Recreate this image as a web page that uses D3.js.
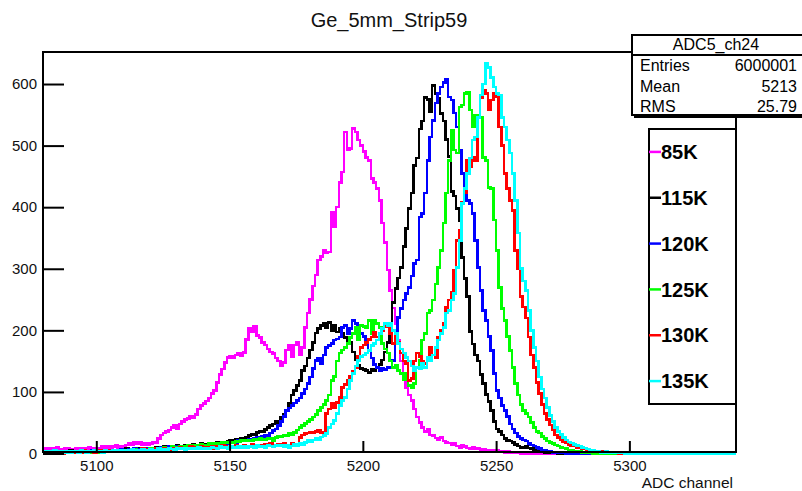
<!DOCTYPE html>
<html>
<head>
<meta charset="utf-8">
<script src="https://cdn.jsdelivr.net/npm/d3@7/dist/d3.min.js"></script>
<style>
  body { margin: 0; background: #fff; }
  svg { display: block; font-family: "Liberation Sans", Arial, sans-serif; }
</style>
</head>
<body>
<svg id="chart"></svg>
<script>
// bins are 1 ADC channel wide, first bin starts at 5080
const firstChannel = 5080;
const lastChannel = 5340;

const seriesNames = ["85K", "115K", "120K", "125K", "130K", "135K"];
const seriesColors = ["#ff00ff", "#000000", "#0000ff", "#00ff00", "#ff0000", "#00ffff"];

const counts85K = [
  8,6,9,7,8,10,7,6,9,8, 7,5,8,9,6,8,7,10,8,9, 7,9,11,10,12,9,11,13,10,12,
  11,14,17,15,19,16,18,15,17,14, 16,18,17,24,30,33,36,38,42,45, 41,48,52,55,57,60,58,63,72,78,
  81,85,90,97,102,115,128,137,148,156, 158,155,160,163,159,164,185,203,197,206,
  192,188,180,176,170,165,162,155,150,142, 148,168,175,158,176,180,160,172,205,228,
  250,272,290,314,320,330,326,327,392,368, 400,440,457,522,493,495,528,522,509,500,
  490,481,476,447,440,430,411,374,343,298, 265,236,210,184,150,125,107,95,86,72,
  59,50,42,36,40,30,29,25,22,26, 20,18,17,14,16,12,10,13,11,9,
  8,10,7,8,6,7,5,6,5,4, 5,3,4,2,3,2,1,2,1
];
const counts115K = [
  2,3,1,4,2,3,2,4,3,2, 5,3,4,2,3,5,4,3,4,6, 3,5,4,6,5,4,6,6,5,7,
  6,8,5,7,6,8,9,7,8,6, 9,8,10,9,9,11,10,12,11,10, 13,12,11,14,13,12,15,13,14,16,
  15,15,14,17,16,18,17,19,18,20, 22,21,23,22,25,24,27,29,31,30,
  34,36,35,39,42,45,48,52,50,58, 63,70,82,95,102,110,119,135,142,155,
  168,180,196,203,208,212,205,213,200,208, 197,203,195,188,178,180,165,152,143,138,
  136,135,132,136,134,140,145,152,165,180, 210,245,268,285,302,336,365,398,423,468,
  480,527,540,578,575,555,598,585,577,552, 540,510,482,425,418,398,378,318,284,255,
  198,178,160,150,128,114,96,84,70,52, 40,36,30,24,21,20,18,15,12,10,
  10,11,9,8,6,5,4,3,2,2, 1,2,1,0,1,0,1,0,0,1
];
const counts120K = [
  1,2,0,3,1,2,1,3,2,1, 3,2,4,2,3,2,4,3,5,3, 4,3,5,4,6,4,5,6,5,7,
  6,5,7,6,8,7,6,8,7,9, 8,7,9,8,10,9,8,11,9,10, 12,11,10,12,11,13,12,10,11,13,
  12,12,14,13,15,14,16,15,17,16, 18,19,18,21,20,22,21,23,22,24,
  26,25,28,30,29,33,37,40,45,52, 60,70,74,78,82,86,90,97,105,114,
  124,138,151,155,146,160,172,175,179,184, 186,189,205,208,195,203,216,211,205,195,
  190,184,167,155,145,140,135,138,136,140, 139,151,185,221,235,249,260,270,288,309,
  314,384,390,423,476,514,541,569,585,595, 602,607,579,574,553,530,493,455,430,411,
  406,390,346,302,265,232,216,190,167,130, 102,90,78,70,60,48,40,33,28,24,
  22,20,16,14,12,10,8,6,5,4, 3,2,2,1,2,1,0,1,0,1
];
const counts125K = [
  2,1,3,1,2,0,2,1,3,2, 1,3,2,2,4,1,3,2,3,4, 2,4,3,5,3,4,3,5,4,6,
  5,4,6,5,7,6,5,8,6,7, 8,6,9,7,8,10,8,9,11,10, 9,12,11,10,13,12,14,13,12,15,
  14,14,16,15,17,16,15,18,17,19, 18,17,20,19,21,20,22,21,20,23,
  22,24,23,22,25,24,21,26,28,27, 30,29,32,31,34,38,42,45,49,52,
  55,59,63,70,75,80,86,95,119,125, 150,163,168,172,179,188,195,205,184,208,
  206,205,216,195,216,211,205,179,170,163, 150,140,143,135,130,120,130,110,107,114,
  140,151,184,195,228,232,249,275,302,330, 374,423,476,525,493,488,563,566,585,587,
  558,530,550,548,546,481,476,432,430,379, 330,270,235,216,190,167,140,114,95,80,
  70,65,59,50,42,36,33,28,24,20, 18,16,14,12,10,9,8,6,5,4, 3,3,2,2,1,1,0
];
const counts130K = [
  3,1,2,4,1,3,2,0,2,3, 1,4,2,3,2,5,1,3,4,2, 3,5,2,4,3,6,4,3,5,4,
  6,4,5,7,5,3,6,8,5,7, 6,5,8,7,6,9,7,8,6,9, 8,10,7,9,8,11,9,10,8,11,
  9,10,9,12,8,11,10,13,9,12, 11,10,13,12,9,14,12,11,15,13,
  12,14,11,15,13,16,12,14,15,13, 16,14,12,16,15,14,26,30,32,33,
  35,34,36,37,33,35,65,72,81,75, 83,91,107,112,119,125,133,140,158,172,
  176,180,185,189,197,189,195,200,206,211, 195,179,195,180,163,150,146,119,122,150,
  163,158,150,146,155,172,160,156,189,200, 211,237,249,262,298,346,363,408,423,476,
  465,481,476,545,577,590,585,558,574,585, 579,530,500,455,430,411,395,330,300,255,
  238,220,189,160,140,115,97,80,65,55, 46,38,30,26,22,19,17,15,13,12,
  10,9,8,7,6,5,4,4,3,2, 3,2,1,2,1,1,0,1,2,1, 0,1
];
const counts135K = [
  4,2,3,1,5,2,3,4,2,3, 2,4,3,2,5,3,2,4,3,5, 3,4,2,5,4,3,6,4,5,3,
  5,6,4,7,5,6,4,7,6,5, 7,5,6,8,6,7,5,8,7,6, 8,7,9,6,8,7,9,8,10,7,
  8,9,8,10,9,8,11,9,10,8, 11,10,9,12,10,11,9,12,11,10,
  13,11,12,10,13,12,11,14,12,13, 11,14,10,12,15,13,16,14,18,21,
  19,22,25,23,27,29,32,42,48,54, 65,78,86,91,105,119,130,142,151,158,
  160,163,167,175,179,184,195,203,211,208, 211,200,195,179,170,163,156,150,142,135,
  140,138,146,140,156,151,160,172,184,195, 205,228,232,249,260,302,346,406,430,455,
  480,509,514,546,582,600,634,627,611,595, 585,582,546,530,509,488,455,411,358,300,
  280,265,232,200,172,150,124,105,90,75, 62,52,42,36,31,26,22,19,17,15,
  13,12,10,9,7,6,5,4,3,2, 2,3,1,2,1,1,2,1,0,1, 0,0,1
];
const allCounts = [counts85K, counts115K, counts120K, counts125K, counts130K, counts135K];

const xMajorTicks = [5100, 5150, 5200, 5250, 5300];
const xMinorTicks = d3.range(5080, 5341, 10);
const yMajorTicks = [0, 100, 200, 300, 400, 500, 600];
const yMinorTicks = d3.range(0, 651, 20);

const histTitle = "Ge_5mm_Strip59";
const statsTitle = "ADC5_ch24";
const statsLabels = ["Entries", "Mean", "RMS"];
const statsValues = ["6000001", "5213", "25.79"];
const xTitle = "ADC channel";

const width = 802;
const height = 491;
const frame = { left: 43, right: 736, top: 52, bottom: 452 };

const svg = d3.select("#chart").attr("width", width).attr("height", height);

const x = d3.scaleLinear().domain([firstChannel, lastChannel]).range([frame.left, frame.right]);
const y = d3.scaleLinear().domain([0, 652]).range([frame.bottom + 1.5, frame.top]);

// title
svg.append("text")
  .attr("x", 389)
  .attr("y", 27)
  .attr("text-anchor", "middle")
  .style("font-size", "20px")
  .style("fill", "#111")
  .text(histTitle);

// histograms, drawn as steps; empty bins up to the end of the axis are zero
const stepLine = d3.line()
  .x((d) => x(d[0]))
  .y((d) => y(d[1]))
  .curve(d3.curveStepAfter);

const plot = svg.append("g");
allCounts.forEach((counts, i) => {
  const pts = [];
  for (let ch = firstChannel; ch < lastChannel; ch++) {
    const v = counts[ch - firstChannel];
    pts.push([ch, v === undefined ? 0 : v]);
  }
  pts.push([lastChannel, pts[pts.length - 1][1]]);
  plot.append("path")
    .datum(pts)
    .attr("d", stepLine)
    .attr("fill", "none")
    .attr("stroke", seriesColors[i])
    .attr("stroke-width", 2.6)
    .attr("shape-rendering", "crispEdges");
});

// frame
svg.append("rect")
  .attr("x", frame.left)
  .attr("y", frame.top)
  .attr("width", frame.right - frame.left)
  .attr("height", frame.bottom - frame.top)
  .attr("fill", "none")
  .attr("stroke", "#000")
  .attr("stroke-width", 2);

// y axis (ticks inward)
const yAxis = svg.append("g").attr("transform", "translate(" + frame.left + ",0)");
yAxis.call(d3.axisLeft(y).tickValues(yMinorTicks).tickSize(-10).tickFormat(""));
yAxis.call(d3.axisLeft(y).tickValues(yMajorTicks).tickSize(-21).tickPadding(6).tickFormat(d3.format("d")));
yAxis.selectAll(".domain").remove();
yAxis.selectAll("line").attr("stroke-width", 2);
yAxis.selectAll("text").style("font-size", "15px").style("fill", "#111").style("font-family", "Liberation Sans, Arial, sans-serif");

// x axis (ticks inward)
const xAxis = svg.append("g").attr("transform", "translate(0," + frame.bottom + ")");
xAxis.call(d3.axisBottom(x).tickValues(xMinorTicks).tickSize(-5.5).tickFormat(""));
xAxis.call(d3.axisBottom(x).tickValues(xMajorTicks).tickSize(-11).tickPadding(8).tickFormat(d3.format("d")));
xAxis.selectAll(".domain").remove();
xAxis.selectAll("line").attr("stroke-width", 2);
xAxis.selectAll("text").style("font-size", "15px").style("fill", "#111").style("font-family", "Liberation Sans, Arial, sans-serif");

svg.append("text")
  .attr("x", 733)
  .attr("y", 488)
  .attr("text-anchor", "end")
  .style("font-size", "15.5px")
  .style("fill", "#111")
  .text(xTitle);

// stats box
const stats = svg.append("g");
stats.append("rect").attr("x", 634).attr("y", 37).attr("width", 180).attr("height", 81).attr("fill", "#000");
stats.append("rect")
  .attr("x", 632).attr("y", 35).attr("width", 180).attr("height", 80)
  .attr("fill", "#fff").attr("stroke", "#000").attr("stroke-width", 2);
stats.append("line")
  .attr("x1", 632).attr("x2", 812).attr("y1", 55).attr("y2", 55)
  .attr("stroke", "#000").attr("stroke-width", 2);
stats.append("text")
  .attr("x", 716).attr("y", 50)
  .attr("text-anchor", "middle")
  .style("font-size", "16px")
  .text(statsTitle);
statsLabels.forEach((lab, i) => {
  stats.append("text").attr("x", 640).attr("y", 71 + i * 20.5).style("font-size", "16px").text(lab);
  stats.append("text").attr("x", 797).attr("y", 71 + i * 20.5)
    .attr("text-anchor", "end").style("font-size", "16px").text(statsValues[i]);
});

// legend
const legend = svg.append("g");
const legTop = 129, legBottom = 404, legLeft = 649, legRight = 736;
legend.append("rect")
  .attr("x", legLeft).attr("y", legTop)
  .attr("width", legRight - legLeft).attr("height", legBottom - legTop)
  .attr("fill", "#fff").attr("stroke", "#000").attr("stroke-width", 2);
const rowH = (legBottom - legTop) / seriesNames.length;
seriesNames.forEach((name, i) => {
  const cy = legTop + (i + 0.5) * rowH;
  legend.append("line")
    .attr("x1", legLeft).attr("x2", legLeft + 12)
    .attr("y1", cy).attr("y2", cy)
    .attr("stroke", seriesColors[i]).attr("stroke-width", 2.5);
  legend.append("text")
    .attr("x", legLeft + 12).attr("y", cy)
    .attr("dy", "0.36em")
    .style("font-size", "20px")
    .style("font-weight", "bold")
    .text(name);
});
</script>
</body>
</html>
